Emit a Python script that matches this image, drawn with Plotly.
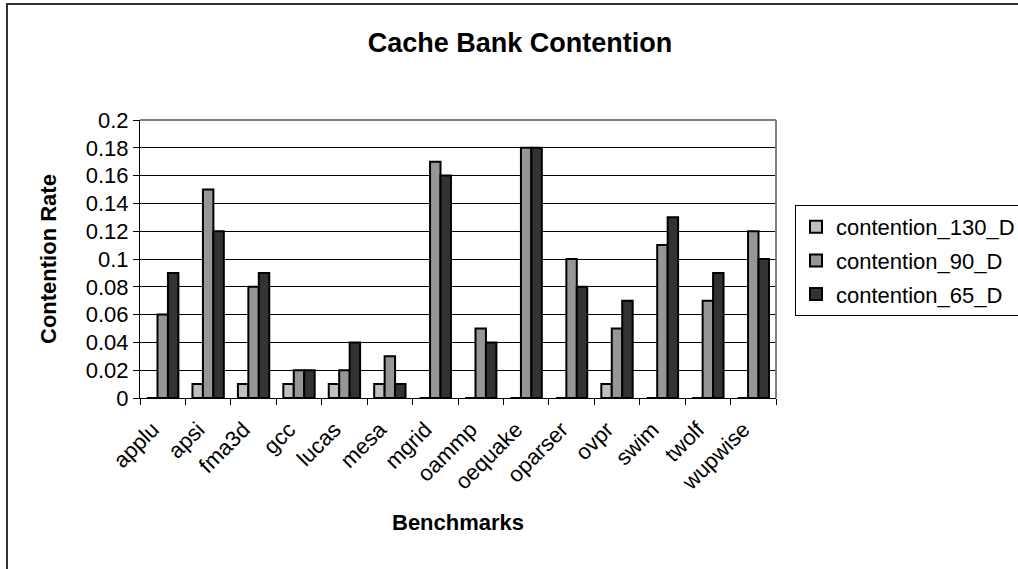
import plotly.graph_objects as go

# Benchmarks and contention rates per technology node
benchmarks = ["applu", "apsi", "fma3d", "gcc", "lucas", "mesa", "mgrid",
              "oammp", "oequake", "oparser", "ovpr", "swim", "twolf", "wupwise"]
contention_130_D = [0, 0.01, 0.01, 0.01, 0.01, 0.01, 0, 0, 0, 0, 0.01, 0, 0, 0]
contention_90_D = [0.06, 0.15, 0.08, 0.02, 0.02, 0.03, 0.17, 0.05, 0.18, 0.10, 0.05, 0.11, 0.07, 0.12]
contention_65_D = [0.09, 0.12, 0.09, 0.02, 0.04, 0.01, 0.16, 0.04, 0.18, 0.08, 0.07, 0.13, 0.09, 0.10]

series_names = ["contention_130_D", "contention_90_D", "contention_65_D"]
series_values = [contention_130_D, contention_90_D, contention_65_D]
series_colors = ["#C0C0C0", "#969696", "#333333"]

FONT = "Liberation Sans, Arial, sans-serif"

fig = go.Figure()
for name, vals, col in zip(series_names, series_values, series_colors):
    fig.add_trace(go.Bar(
        x=benchmarks, y=vals, name=name, legendgroup=name,
        marker=dict(color=col, line=dict(color="#000000", width=2)),
    ))

W, H = 1018, 569
L, R, T, B = 140, 242, 120, 171
pw, ph = W - L - R, H - T - B


def px_x(p):
    return (p - L) / pw


def px_y(p):
    return (H - B - p) / ph


fig.update_layout(
    width=W, height=H,
    margin=dict(l=L, r=R, t=T, b=B, autoexpand=False),
    paper_bgcolor="white", plot_bgcolor="white",
    barmode="group", bargap=0.31, bargroupgap=0,
    font=dict(family=FONT, size=22, color="#000000"),
    title=dict(text="<b>Cache Bank Contention</b>", font=dict(size=27, family=FONT),
               xref="container", x=520 / W, xanchor="center",
               yref="container", y=1 - 43 / H, yanchor="middle"),
    showlegend=True,
    legend=dict(
        x=px_x(795), y=px_y(205), xanchor="left", yanchor="top",
        bordercolor="#000000", borderwidth=1, bgcolor="white",
        font=dict(size=22, family=FONT), tracegroupgap=2,
    ),
    xaxis=dict(
        type="category", showline=True, linecolor="#000000", linewidth=1,
        ticks="outside", tickson="boundaries", ticklen=6, tickcolor="#000000",
        tickangle=-45, tickfont=dict(size=22), showgrid=False, zeroline=False,
        ticklabelstandoff=9, ticklabelshift=-10,
    ),
    yaxis=dict(
        range=[0, 0.2], dtick=0.02, showline=True, linecolor="#000000", linewidth=1,
        ticks="outside", ticklen=6, tickcolor="#000000", tickfont=dict(size=22),
        showgrid=True, gridcolor="#000000", gridwidth=1, zeroline=False,
    ),
    annotations=[
        dict(text="<b>Benchmarks</b>", xref="paper", yref="paper",
             x=0.5, y=px_y(522), xanchor="center", yanchor="middle",
             showarrow=False, font=dict(size=22)),
        dict(text="<b>Contention Rate</b>", xref="paper", yref="paper",
             x=px_x(48), y=0.5, xanchor="center", yanchor="middle",
             textangle=-90, showarrow=False, font=dict(size=22)),
    ],
    shapes=[
        # plot-area frame on top and right
        dict(type="line", xref="paper", yref="paper", x0=0, x1=1, y0=1, y1=1,
             line=dict(color="#808080", width=2), layer="above"),
        dict(type="line", xref="paper", yref="paper", x0=1, x1=1, y0=0, y1=1,
             line=dict(color="#808080", width=2), layer="above"),
        # chart-area border
        dict(type="rect", xref="paper", yref="paper",
             x0=px_x(7), x1=px_x(1030), y0=px_y(4), y1=px_y(580),
             line=dict(color="#333333", width=2), layer="below"),
    ],
)

fig.write_html("out.html")
